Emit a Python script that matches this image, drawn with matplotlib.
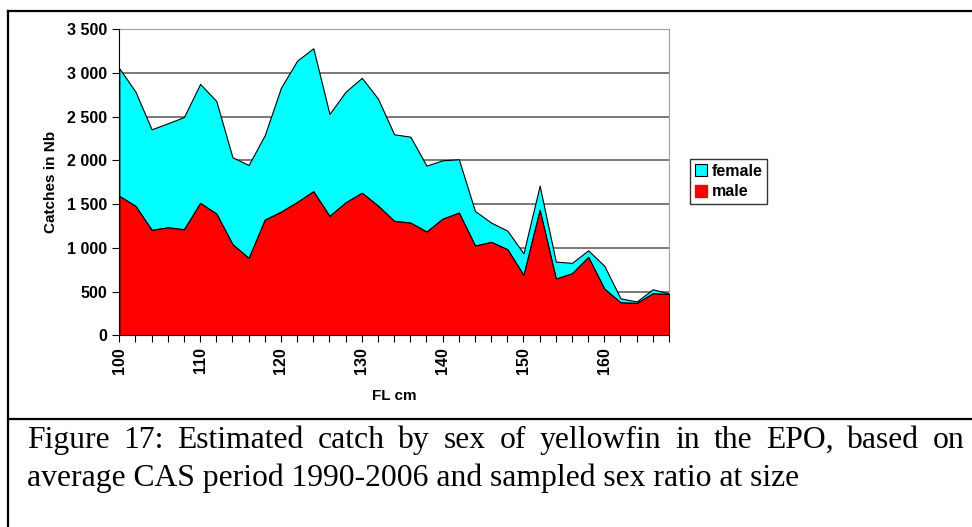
import numpy as np
import matplotlib
matplotlib.use("Agg")
import matplotlib.pyplot as plt
from matplotlib.ticker import FuncFormatter, MultipleLocator
from matplotlib.patches import Patch
from matplotlib.lines import Line2D

# data (fork length in cm, catches in number)
fl_cm = np.arange(100, 170, 2)
male = [1594, 1479, 1205, 1235, 1212, 1514, 1392, 1041, 885, 1323,
        1414, 1525, 1647, 1365, 1521, 1630, 1483, 1308, 1289, 1186,
        1334, 1403, 1026, 1068, 984, 690, 1434, 648, 709, 896,
        532, 376, 370, 480, 471]
total = [3054, 2787, 2356, 2425, 2497, 2875, 2680, 2036, 1948, 2291,
         2833, 3142, 3283, 2532, 2787, 2945, 2707, 2299, 2272, 1941,
         2002, 2013, 1422, 1289, 1197, 938, 1712, 843, 829, 972,
         795, 423, 387, 526, 478]
female = [t - m for t, m in zip(total, male)]

series_names = ["female", "male"]
caption1 = "Figure 17: Estimated catch by sex of yellowfin in the EPO, based on"
caption2 = "average CAS period 1990-2006 and sampled sex ratio at size"

W, H = 972, 527
fig = plt.figure(figsize=(W / 100, H / 100), dpi=100)

ax = fig.add_axes([119.3 / W, 1 - 335.3 / H, (669 - 119.3) / W, 306 / H])
ax.fill_between(fl_cm, 0, male, facecolor="#ff0000", edgecolor="black", lw=0.8, zorder=3)
ax.fill_between(fl_cm, male, total, facecolor="#00ffff", edgecolor="black", lw=0.8, zorder=2)

ax.set_xlim(100, 168)
ax.set_ylim(0, 3500)
ax.yaxis.set_major_locator(MultipleLocator(500))
ax.yaxis.set_major_formatter(FuncFormatter(lambda v, p: f"{int(v):,}".replace(",", " ")))
ax.xaxis.set_major_locator(MultipleLocator(10))
ax.xaxis.set_minor_locator(MultipleLocator(2))
ax.grid(axis="y", color="#707070", lw=1.3, zorder=1)

for s in ["top", "right"]:
    ax.spines[s].set_color("#a0a0a0")
ax.spines["left"].set_zorder(5)
ax.spines["bottom"].set_zorder(5)

ax.tick_params(axis="x", which="both", direction="out", length=5, width=0.8)
ax.tick_params(axis="y", direction="out", length=5, width=0.8)
for lab in ax.get_xticklabels():
    lab.set_rotation(90)
for lab in ax.get_xticklabels() + ax.get_yticklabels():
    lab.set_fontfamily("Liberation Sans")
    lab.set_fontweight("bold")
    lab.set_fontsize(11.5)

ax.set_xlabel("FL cm", family="Liberation Sans", weight="bold", fontsize=11, labelpad=11)
ax.set_ylabel("Catches in Nb", family="Liberation Sans", weight="bold", fontsize=11, labelpad=7)

handles = [Patch(facecolor="#00ffff", edgecolor="black", lw=0.8),
           Patch(facecolor="#ff0000", edgecolor="#ff0000")]
leg = fig.legend(handles, series_names, loc="upper left",
                 bbox_to_anchor=(690 / W, 1 - 159 / H),
                 prop={"family": "Liberation Sans", "weight": "bold", "size": 11.5},
                 frameon=True, fancybox=False, edgecolor="black",
                 handlelength=0.75, handleheight=0.75, handletextpad=0.3,
                 borderpad=0.3, labelspacing=0.35, borderaxespad=0)
leg.get_frame().set_linewidth(1.0)

# outer frame and separator
fig.add_artist(Line2D([7.5 / W, 7.5 / W], [0, 1 - 10.7 / H], color="black", lw=1.6))
fig.add_artist(Line2D([7.5 / W, 1], [1 - 10.7 / H, 1 - 10.7 / H], color="black", lw=1.6))
fig.add_artist(Line2D([7.5 / W, 1], [1 - 419.3 / H, 1 - 419.3 / H], color="black", lw=1.6))

# caption, first line justified
cap_font = dict(family="Liberation Serif", fontsize=22.8, color="black", va="baseline")
renderer = fig.canvas.get_renderer()
words = caption1.split(" ")
txts = [fig.text(0, 1 - 448.3 / H, w, ha="left", **cap_font) for w in words]
widths = [t.get_window_extent(renderer).width for t in txts]
x0, x1 = 26.7, 965
gap = (x1 - x0 - sum(widths)) / (len(words) - 1)
x = x0
for t, wd in zip(txts, widths):
    t.set_x(x / W)
    x += wd + gap
fig.text(x0 / W, 1 - 486 / H, caption2, ha="left", **cap_font)

fig.savefig("out.png", dpi=100)
